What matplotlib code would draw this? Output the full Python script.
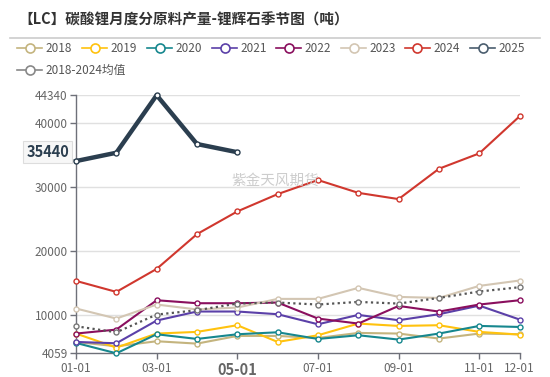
import matplotlib
matplotlib.use("Agg")
import matplotlib.pyplot as plt
from matplotlib.lines import Line2D

plt.rcParams['font.family'] = ['Noto Sans CJK SC', 'DejaVu Sans']

months = ["01-01", "02-01", "03-01", "04-01", "05-01", "06-01",
          "07-01", "08-01", "09-01", "10-01", "11-01", "12-01"]
shown_ticks = ["01-01", "03-01", "05-01", "07-01", "09-01", "11-01", "12-01"]

y2018 = [5830, 5150, 5940, 5570, 6770, 6770, 6450, 7240, 7140, 6360, 7140, 7030]
y2019 = [7140, 4950, 7140, 7400, 8440, 5830, 6875, 8700, 8330, 8440, 7400, 6980]
y2020 = [5680, 4059, 7030, 6300, 7030, 7340, 6300, 6875, 6200, 7140, 8330, 8170]
y2021 = [5830, 5625, 9170, 10580, 10580, 10160, 8590, 10050, 9220, 10160, 11500, 9330]
y2022 = [7140, 7760, 12340, 11875, 11875, 11980, 9480, 8700, 11450, 10570, 11670, 12340]
y2023 = [11050, 9480, 11670, 10900, 11200, 12550, 12550, 14270, 12860, 12700, 14580, 15420]
y2024 = [15360, 13640, 17230, 22660, 26200, 28900, 31100, 29100, 28125, 32860, 35260, 41050]
y2025 = [34060, 35360, 44340, 36720, 35440]
yavg = [8280, 7340, 10100, 10780, 11820, 11980, 11670, 12080, 11820, 12700, 13700, 14375]

y_ticks = [4059, 10000, 20000, 30000, 40000, 44340]
last_label = "35440"

series = [
    ("2018", y2018, '#c4b47e'),
    ("2019", y2019, '#ffc20e'),
    ("2020", y2020, '#16878e'),
    ("2021", y2021, '#5b40a8'),
    ("2022", y2022, '#8a0f5e'),
    ("2023", y2023, '#d3c6b3'),
    ("2024", y2024, '#d0372e'),
]
c2025 = '#2b3e4f'
cavg = '#555555'

fig = plt.figure(figsize=(5.5, 3.77), dpi=100)
ax = fig.add_axes([76/550, 1-353.3/377, (519.6-76)/550, (353.3-95.2)/377])

x = list(range(len(months)))
for name, ys, col in series:
    ax.plot(x[:len(ys)], ys, color=col, lw=1.5, marker='o', ms=3.6,
            mfc='white', mec=col, mew=1.0, zorder=3, clip_on=False)
ax.plot(x, yavg, color=cavg, lw=1.6, ls=(0, (1, 1.5)), marker='o', ms=3.6,
        mfc='white', mec='#777777', mew=1.0, zorder=3, clip_on=False)
ax.plot(x[:len(y2025)], y2025, color=c2025, lw=3.2, marker='o', ms=3.6,
        mfc='white', mec=c2025, mew=1.0, zorder=4, clip_on=False)

ax.set_xlim(0, len(months)-1)
ax.set_ylim(min(y_ticks), max(y_ticks))
ax.set_yticks(y_ticks)
ax.set_yticklabels([str(v) for v in y_ticks], fontsize=8.5, color='#666666')
tick_pos = [months.index(m) for m in shown_ticks]
ax.set_xticks(tick_pos)
ax.set_xticklabels(shown_ticks, fontsize=8.5, color='#666666')
for lab in ax.get_xticklabels():
    if lab.get_text() == "05-01":
        lab.set_fontweight('bold')
        lab.set_fontsize(10.5)
        lab.set_color(c2025)

for v in y_ticks[1:]:
    ax.axhline(v, color='#e0e0e0', lw=1, zorder=1)
for s in ['top', 'right']:
    ax.spines[s].set_visible(False)
for s in ['left', 'bottom']:
    ax.spines[s].set_color('#6e7079')
    ax.spines[s].set_linewidth(1)
ax.tick_params(axis='both', colors='#6e7079', length=4, width=1, pad=2)
ax.tick_params(axis='x', labelcolor='#666666')
ax.tick_params(axis='y', labelcolor='#666666')

# last value label on y axis
ax.annotate(last_label, xy=(0, y2025[-1]), xycoords=('axes fraction', 'data'),
            xytext=(-5, 0), textcoords='offset points', ha='right', va='center',
            fontsize=10.5, fontweight='bold', color=c2025,
            bbox=dict(boxstyle='square,pad=0.2', fc='#f7f7f7', ec='#dddddd', lw=0.8),
            annotation_clip=False, zorder=6)

# watermark
fig.text(275/550, 1-181/377, "紫金天风期货", fontsize=10.5, color='#c8c8c8',
         ha='center', va='center', alpha=0.9)

# title
fig.text(18/550, 1-20/377, "【LC】碳酸锂月度分原料产量-锂辉石季节图（吨）",
         fontsize=10.5, fontweight='bold', color='#333333', ha='left', va='center')
fig.add_artist(Line2D([10/550, 540/550], [1-38/377, 1-38/377],
                      transform=fig.transFigure, color='#cccccc', lw=1.2))

# legend (manual)
legend_items = [(n, c) for n, _, c in series] + [("2025", '#4a5d6e')]
leg_x = [17, 82, 147, 212, 276, 341, 405, 470]
for (name, col), lx in zip(legend_items, leg_x):
    yy = 1-48/377
    fig.add_artist(Line2D([lx/550, (lx+25)/550], [yy, yy], transform=fig.transFigure,
                          color=col, lw=1.2))
    fig.add_artist(Line2D([(lx+12.5)/550], [yy], transform=fig.transFigure,
                          marker='o', ms=6.5, mfc='white', mec=col, mew=1.2))
    fig.text((lx+28)/550, yy, name, fontsize=8.5, color='#555555', va='center', ha='left')
yy = 1-70/377
lx = 17
fig.add_artist(Line2D([lx/550, (lx+25)/550], [yy, yy], transform=fig.transFigure,
                      color='#888888', lw=1.2))
fig.add_artist(Line2D([(lx+12.5)/550], [yy], transform=fig.transFigure,
                      marker='o', ms=6.5, mfc='white', mec='#888888', mew=1.2))
fig.text((lx+28)/550, yy, "2018-2024均值", fontsize=8.5, color='#555555', va='center', ha='left')

fig.savefig("out.png", dpi=100)
